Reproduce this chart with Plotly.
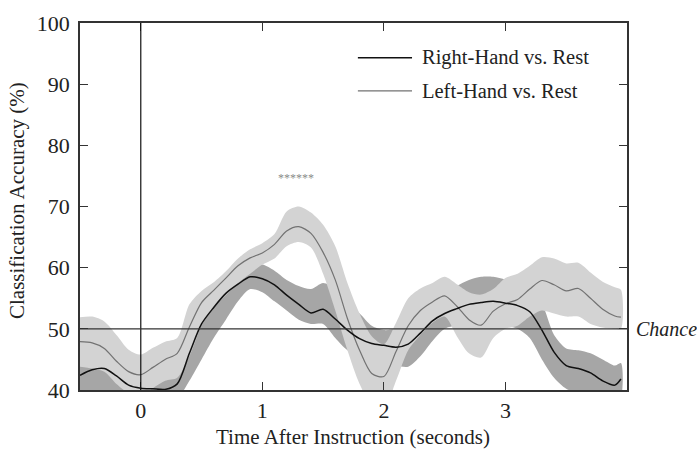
import plotly.graph_objects as go

# ---- data ----
time_s = [-0.5, -0.4, -0.3, -0.2, -0.1, 0.0, 0.1, 0.2, 0.3, 0.4, 0.5, 0.6, 0.7, 0.8, 0.9,
          1.0, 1.1, 1.2, 1.3, 1.4, 1.5, 1.6, 1.7, 1.8, 1.9, 2.0, 2.1, 2.2, 2.3, 2.4,
          2.5, 2.6, 2.7, 2.8, 2.9, 3.0, 3.1, 3.2, 3.3, 3.4, 3.5, 3.6, 3.7, 3.8, 3.9, 3.95]

right_mean = [42.4, 43.3, 43.5, 42.3, 40.8, 40.3, 40.2, 40.1, 41.0, 46.0, 50.8, 53.5, 55.8, 57.3, 58.5,
              58.2, 57.2, 55.5, 54.0, 52.6, 53.2, 51.6, 49.8, 48.4, 47.6, 47.3, 47.0, 47.5, 49.3, 51.3,
              52.5, 53.3, 54.0, 54.3, 54.5, 54.2, 53.8, 52.8, 49.8, 46.2, 44.0, 43.5, 42.8, 41.5, 40.8, 41.8]
right_hi = [44.0, 45.0, 45.2, 44.5, 43.0, 42.5, 42.3, 42.3, 43.5, 48.5, 53.0, 55.5, 57.5, 59.2, 60.3,
            60.5, 59.5, 58.0, 57.0, 56.5, 57.5, 56.5, 54.0, 52.5, 50.5, 49.8, 50.0, 50.5, 52.3, 54.0,
            55.5, 57.0, 58.0, 58.5, 58.5, 58.0, 56.8, 55.8, 54.0, 49.0, 46.8, 46.5, 46.0, 45.0, 44.0, 44.4]
right_lo = [38.0, 39.0, 39.5, 38.5, 37.5, 37.0, 37.0, 37.5, 38.5, 41.5, 45.0, 48.5, 51.5, 54.5, 56.5,
            56.0, 54.5, 53.0, 51.5, 50.8, 50.8, 48.5, 46.5, 45.5, 45.0, 44.5, 44.0, 43.8, 45.5, 48.0,
            50.0, 50.5, 50.0, 50.5, 51.0, 50.5, 50.0, 48.5, 45.0, 42.0, 40.2, 39.5, 39.0, 38.5, 38.5, 39.0]

left_mean = [47.9, 47.7, 46.8, 44.7, 43.0, 42.5, 43.7, 45.0, 46.0, 50.3, 54.3, 56.3, 58.3, 60.3, 61.6,
             62.4, 63.8, 66.0, 66.7, 65.6, 62.5, 58.0, 51.7, 46.5, 42.7, 42.2, 46.3, 50.5, 53.0, 54.4,
             55.4, 53.7, 51.5, 50.6, 52.9, 54.1, 54.8, 56.5, 57.9, 57.2, 56.2, 56.6, 55.0, 53.2, 52.1, 51.9]
left_hi = [51.9, 52.0, 51.2, 49.0, 46.6, 45.8, 46.9, 47.9, 48.5, 54.0, 56.2, 57.6, 59.4, 61.5, 63.0,
           64.0, 65.5, 69.2, 70.0, 69.0, 67.0, 63.5, 57.5, 52.5, 48.8, 47.5, 51.0, 55.0, 56.6, 57.5,
           58.5, 57.3, 56.0, 55.6, 56.5, 58.3, 59.0, 60.3, 61.7, 61.5, 60.7, 60.8, 59.2, 57.7, 56.8, 56.4]
left_lo = [43.8, 43.5, 43.0, 41.0, 39.5, 39.2, 40.3, 41.5, 42.0, 45.5, 50.5, 53.5, 55.5, 57.5, 59.0,
           60.5, 61.5, 63.5, 64.2, 63.3, 59.0, 53.0, 46.5, 41.0, 37.5, 37.0, 41.5, 46.5, 49.0, 51.0,
           52.0, 48.8, 46.0, 45.3, 48.5, 50.0, 50.5, 52.0, 53.0, 52.5, 52.0, 52.0, 50.8, 50.2, 50.0, 50.0]

series_names = ["Right-Hand vs. Rest", "Left-Hand vs. Rest"]
x_ticks = [0, 1, 2, 3]
y_ticks = [40, 50, 60, 70, 80, 90, 100]
chance_level = 50
onset_time = 0
sig_label = "******"
sig_pos = (1.275, 74.7)

FONT = "Liberation Serif"
DARK_BAND = "#a6a6a6"
LIGHT_BAND = "#d3d3d3"
RIGHT_LINE = "#111111"
LEFT_LINE = "#727272"

fig = go.Figure()

def band(lo, hi, color):
    xs = list(time_s) + list(reversed(time_s))
    ys = list(hi) + list(reversed(lo))
    return go.Scatter(x=xs, y=ys, fill="toself", fillcolor=color, mode="lines",
                      line=dict(width=0, color=color, shape="spline", smoothing=0.8),
                      hoverinfo="skip", showlegend=False)

fig.add_trace(band(right_lo, right_hi, DARK_BAND))
fig.add_trace(band(left_lo, left_hi, LIGHT_BAND))
fig.add_trace(go.Scatter(x=time_s, y=left_mean, mode="lines",
                         line=dict(color=LEFT_LINE, width=1.2, shape="spline", smoothing=0.8),
                         name=series_names[1], showlegend=False))
fig.add_trace(go.Scatter(x=time_s, y=right_mean, mode="lines",
                         line=dict(color=RIGHT_LINE, width=1.5, shape="spline", smoothing=0.8),
                         name=series_names[0], showlegend=False))

# reference lines
fig.add_shape(type="line", xref="x", yref="paper", x0=onset_time, x1=onset_time, y0=0, y1=1,
              line=dict(color="#111111", width=1.2))
fig.add_shape(type="line", xref="paper", yref="y", x0=0, x1=1, y0=chance_level, y1=chance_level,
              line=dict(color="#333333", width=1.3))

# manual legend
leg_rows = [(0.905, RIGHT_LINE, 1.5, series_names[0]), (0.815, LEFT_LINE, 1.2, series_names[1])]
for yy, col, w, txt in leg_rows:
    fig.add_shape(type="line", xref="paper", yref="paper", x0=0.508, x1=0.607, y0=yy, y1=yy,
                  line=dict(color=col, width=w))
    fig.add_annotation(xref="paper", yref="paper", x=0.6216, y=yy, text=txt, showarrow=False,
                       xanchor="left", yanchor="middle", font=dict(family=FONT, size=20.5, color="#222222"))

fig.add_annotation(xref="paper", yref="y", x=1.0, y=chance_level, xshift=7, text="<i>Chance</i>",
                   showarrow=False, xanchor="left", yanchor="middle",
                   font=dict(family=FONT, size=20, color="#222222"))
fig.add_annotation(xref="x", yref="y", x=sig_pos[0], y=sig_pos[1], text=sig_label, showarrow=False,
                   font=dict(family=FONT, size=12, color="#8a8a8a"))

# axis titles
fig.add_annotation(xref="paper", yref="paper", x=-0.1152, y=0.5177, text="Classification Accuracy (%)",
                   textangle=-90, showarrow=False, xanchor="center", yanchor="middle",
                   font=dict(family=FONT, size=21, color="#222222"))
fig.add_annotation(xref="paper", yref="paper", x=0.499, y=-0.128, text="Time After Instruction (seconds)",
                   showarrow=False, xanchor="center", yanchor="middle",
                   font=dict(family=FONT, size=21, color="#222222"))

axis_common = dict(showgrid=False, zeroline=False, showline=True, linecolor="#333333", linewidth=1.5,
                   mirror="ticks", ticks="inside", ticklen=8, tickwidth=1.3, tickcolor="#333333",
                   tickfont=dict(family=FONT, size=22, color="#222222"))

fig.update_layout(
    width=697, height=451,
    margin=dict(l=80, r=70, t=23, b=61),
    paper_bgcolor="white", plot_bgcolor="white",
    showlegend=False,
    xaxis=dict(range=[-0.5, 4.0], tickvals=x_ticks, ticklabelstandoff=0, **axis_common),
    yaxis=dict(range=[40, 100], tickvals=y_ticks, ticklabelstandoff=4, **axis_common),
)

fig.write_html("out.html")
